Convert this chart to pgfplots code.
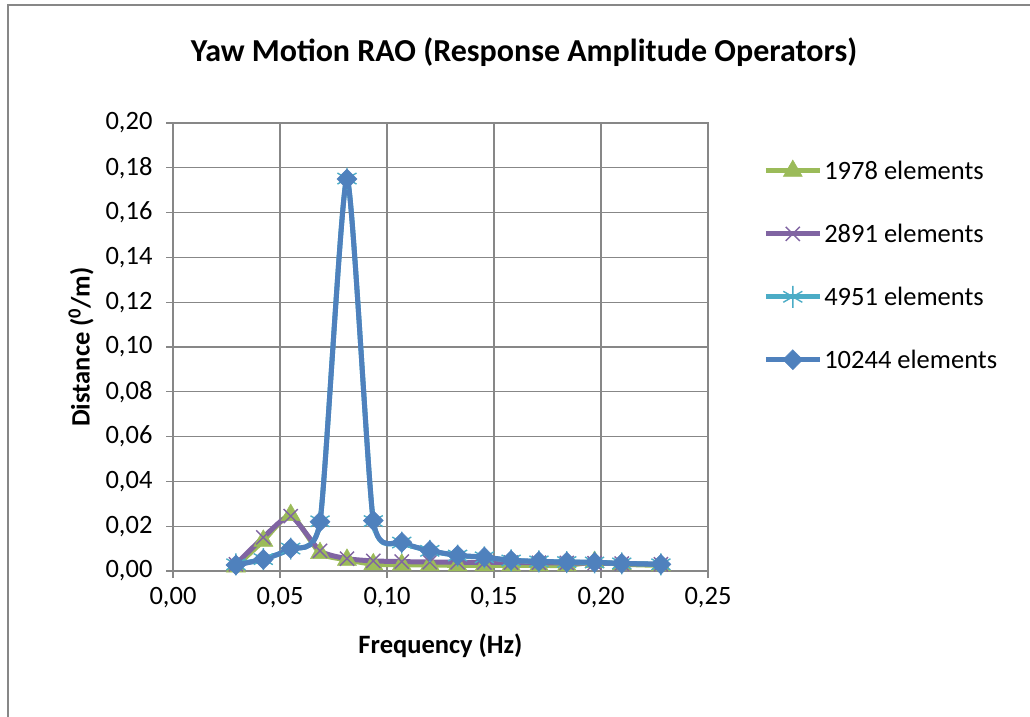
\documentclass[border=0pt]{standalone}
\usepackage{pgfplots}
\pgfplotsset{compat=1.18}
\usepackage{fontspec}
\setmainfont{Carlito}
\definecolor{cgreen}{HTML}{9BBB59}
\definecolor{cpurple}{HTML}{8064A2}
\definecolor{ccyan}{HTML}{4BACC6}
\definecolor{cblue}{HTML}{4F81BD}
\definecolor{cgrid}{HTML}{878787}
\begin{document}
\begin{tikzpicture}[x=1pt,y=1pt]
\useasboundingbox (0,0) rectangle (1030,716);
\draw[cgrid,line width=1.5pt] (8,-5) -- (8,711) -- (1040,711);
\node[font=\fontsize{32}{36}\selectfont\bfseries] at (524,664) {Yaw Motion RAO (Response Amplitude Operators)};
\begin{axis}[
  at={(173pt,145pt)}, anchor=origin,
  scale only axis, width=535pt, height=448pt,
  xmin=0, xmax=0.25, ymin=0, ymax=0.20,
  xtick={0,0.05,...,0.25}, ytick={0,0.02,...,0.2},
  grid=major, grid style={cgrid,line width=1.2pt},
  axis line style={cgrid,line width=1.2pt},
  tick style={cgrid,line width=1.2pt}, tick align=outside, major tick length=7pt,
  xtick pos=bottom, ytick pos=left,
  /pgf/number format/.cd, fixed, fixed zerofill, precision=2, use comma, assume math mode=true,
  /pgfplots/.cd,
  scaled ticks=false,
  ticklabel style={font=\fontsize{26.5}{30}\selectfont},
  xticklabel style={anchor=center, yshift=-20pt},
  yticklabel style={anchor=east, xshift=-10pt},
  xlabel={\textbf{Frequency (Hz)}}, ylabel={\textbf{Distance (\textsuperscript{0}/m)}},
  label style={font=\fontsize{26.5}{30}\selectfont},
  xlabel style={at={(axis description cs:0.5,-0.167)}, anchor=center},
  ylabel style={at={(axis description cs:-0.172,0.5)}, anchor=center, rotate=0},
  legend style={at={(1.103,0.92)}, anchor=north west, draw=none, fill=none,
    font=\fontsize{26.5}{30}\selectfont, row sep=39pt, inner sep=0pt},
  legend cell align=left,
  legend image code/.code={\draw[#1, mark repeat=2, mark phase=2] plot coordinates {(0pt,0pt) (27pt,0pt) (54pt,0pt)};},
  every axis plot/.append style={line width=5pt, smooth, tension=0.35},
]
\addplot[cgreen, mark=triangle*, mark size=11pt, mark options={solid,line width=0.5pt}] coordinates {
(0.0294,0.0020) (0.0422,0.0135) (0.0550,0.0250) (0.0687,0.0080) (0.0813,0.0050) (0.0936,0.0030) (0.1069,0.0028) (0.1200,0.0027) (0.1330,0.0025) (0.1455,0.0025) (0.1580,0.0025) (0.1710,0.0025) (0.1840,0.0025) (0.1970,0.0040) (0.2097,0.0030) (0.2280,0.0025)};
\addlegendentry{1978 elements}
\addplot[cpurple, mark=x, mark size=10pt, mark options={solid,line width=1.4pt}] coordinates {
(0.0294,0.0030) (0.0422,0.0150) (0.0550,0.0245) (0.0687,0.0090) (0.0813,0.0055) (0.0936,0.0045) (0.1069,0.0042) (0.1200,0.0040) (0.1330,0.0039) (0.1455,0.0038) (0.1580,0.0038) (0.1710,0.0037) (0.1840,0.0036) (0.1970,0.0035) (0.2097,0.0033) (0.2280,0.0030)};
\addlegendentry{2891 elements}
\addplot[ccyan, mark=asterisk, mark size=11pt, mark options={solid,line width=1.4pt}] coordinates {
(0.0294,0.0030) (0.0422,0.0053) (0.0550,0.0100) (0.0687,0.0222) (0.0813,0.1752) (0.0936,0.0223) (0.1069,0.0127) (0.1200,0.0090) (0.1330,0.0069) (0.1455,0.0061) (0.1580,0.0047) (0.1710,0.0043) (0.1840,0.0040) (0.1970,0.0038) (0.2097,0.0034) (0.2280,0.0030)};
\addlegendentry{4951 elements}
\addplot[cblue, mark=diamond*, mark size=10pt, mark options={solid,xscale=1.33,line width=0.5pt}] coordinates {
(0.0294,0.0027) (0.0422,0.0052) (0.0550,0.0101) (0.0687,0.0220) (0.0813,0.1750) (0.0936,0.0225) (0.1069,0.0128) (0.1200,0.0091) (0.1330,0.0070) (0.1455,0.0062) (0.1580,0.0048) (0.1710,0.0043) (0.1840,0.0040) (0.1970,0.0039) (0.2097,0.0034) (0.2280,0.0030)};
\addlegendentry{10244 elements}
\end{axis}
\end{tikzpicture}
\end{document}
